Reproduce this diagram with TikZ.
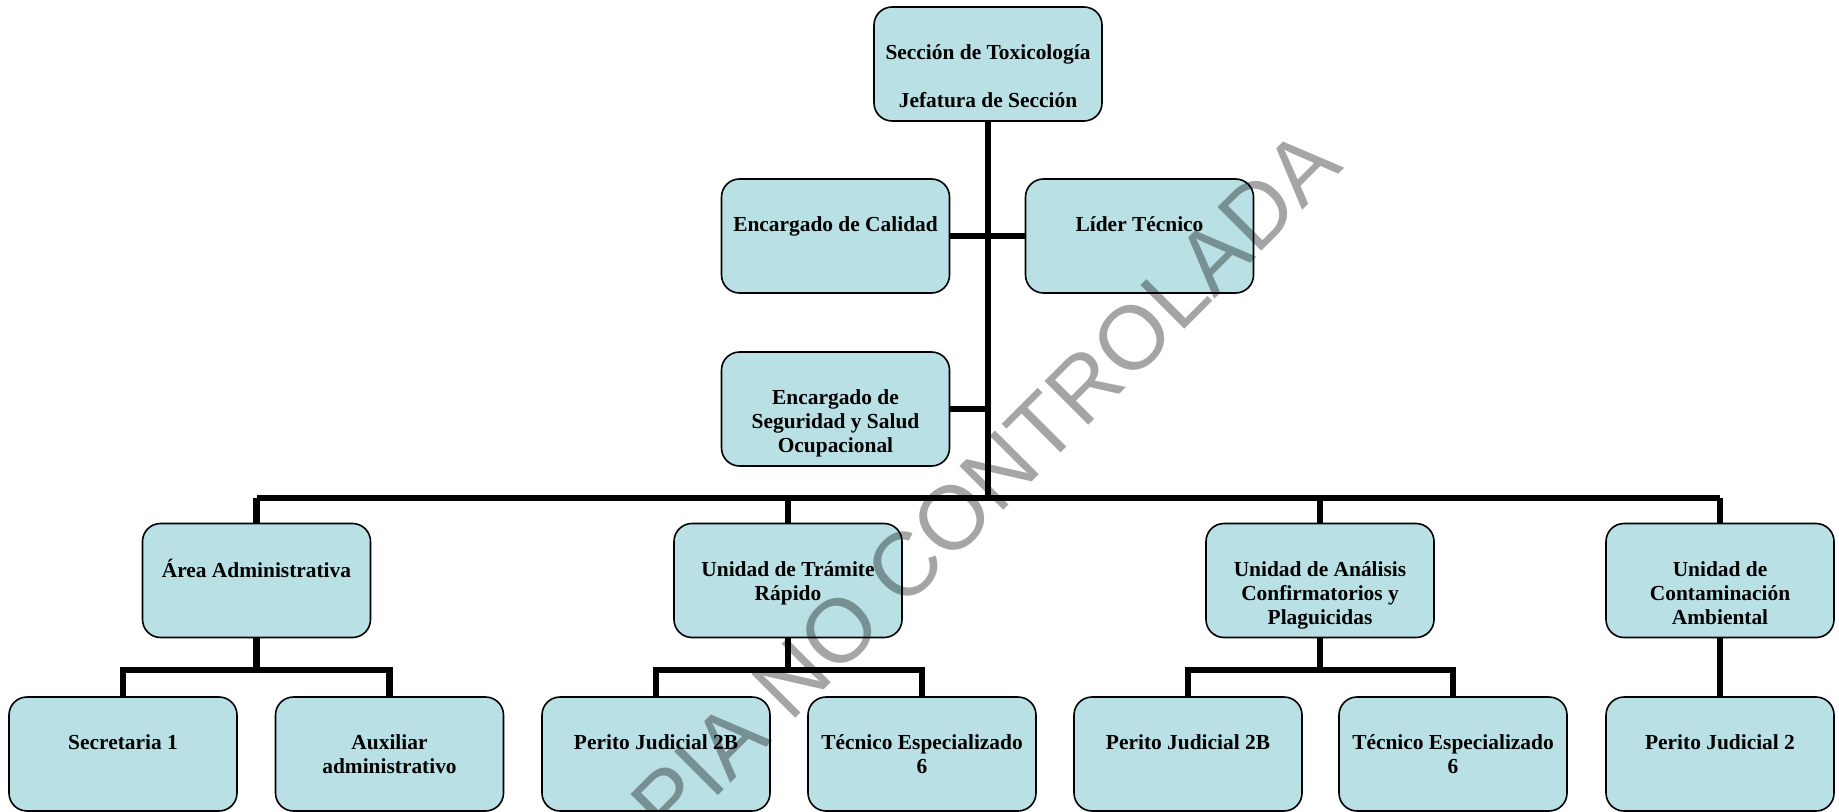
\documentclass[tikz,border=0pt]{standalone}
\usepackage{fontspec}
\setmainfont{Liberation Serif}
\newfontfamily\wmfont{Liberation Sans}
\definecolor{cardfill}{HTML}{B9E0E4}
\definecolor{wmgray}{HTML}{A5A5A5}
% text inside a card: fixed-size box, lines start near the top
\newcommand{\cardtext}[1]{\parbox[c][57pt][t]{114pt}{\centering\vspace*{18pt}\strut#1}}
\tikzset{
  card/.style={draw=black, line width=0.8pt, fill=cardfill, rounded corners=9pt,
    inner sep=0pt, font=\bfseries\fontsize{10.7pt}{12pt}\selectfont},
  link/.style={draw=black, line width=3.2pt},
  watermark/.style={text=wmgray, font=\wmfont\fontsize{45pt}{45pt}\selectfont, inner sep=0pt}
}
\begin{document}
\begin{tikzpicture}[x=0.5pt, y=-0.5pt]
\useasboundingbox (0,0) rectangle (1839,812);

% junction points on the trunk and the main bus
\coordinate (trunkB) at (988,409);
\coordinate (bus) at (988,498);
\coordinate (busL) at (256.5,498);
\coordinate (busR) at (1720,498);

% cards
\node[card] (top) at (988,64) {\cardtext{Sección de Toxicología\\[12pt]Jefatura de Sección}};
\node[card] (cal) at (835.5,236) {\cardtext{Encargado de Calidad}};
\node[card] (lid) at (1139.5,236) {\cardtext{Líder Técnico}};
\node[card] (seg) at (835.5,409) {\cardtext{Encargado de\\Seguridad y Salud\\Ocupacional}};

\node[card] (area) at (256.5,580.5) {\cardtext{Área Administrativa}};
\node[card] (tram) at (788,580.5) {\cardtext{Unidad de Trámite\\Rápido}};
\node[card] (anal) at (1320,580.5) {\cardtext{Unidad de Análisis\\Confirmatorios y\\Plaguicidas}};
\node[card] (cont) at (1720,580.5) {\cardtext{Unidad de\\Contaminación\\Ambiental}};

\node[card] (sec) at (123,754) {\cardtext{Secretaria 1}};
\node[card] (aux) at (389.5,754) {\cardtext{Auxiliar\\administrativo}};
\node[card] (pa) at (656,754) {\cardtext{Perito Judicial 2B}};
\node[card] (ta) at (922,754) {\cardtext{Técnico Especializado\\6}};
\node[card] (pb) at (1188,754) {\cardtext{Perito Judicial 2B}};
\node[card] (tb) at (1453,754) {\cardtext{Técnico Especializado\\6}};
\node[card] (pc) at (1720,754) {\cardtext{Perito Judicial 2}};

% main trunk and side branches
\path[link] (top.south) -- (bus);
\path[link] (cal.east) -- (lid.west);
\path[link] (seg.east) -- (trunkB);
\path[link] (busL) -- (busR);
\path[link] (busL) -- (area.north);
\path[link] (tram.north |- bus) -- (tram.north);
\path[link] (anal.north |- bus) -- (anal.north);
\path[link] (busR) -- (cont.north);

% second level
\path[link] (area.south) -- (area.south |- 0,670) -| (sec.north);
\path[link] (area.south |- 0,670) -| (aux.north);
\path[link] (tram.south) -- (tram.south |- 0,670) -| (pa.north);
\path[link] (tram.south |- 0,670) -| (ta.north);
\path[link] (anal.south) -- (anal.south |- 0,670) -| (pb.north);
\path[link] (anal.south |- 0,670) -| (tb.north);
\path[link] (cont.south) -- (pc.north);

% stamp across the chart, multiplied onto what lies below
\begin{scope}[blend mode=multiply]
\node[watermark, rotate=45] (wm) at (938,532) {COPIA NO CONTROLADA};
\end{scope}
\end{tikzpicture}
\end{document}
